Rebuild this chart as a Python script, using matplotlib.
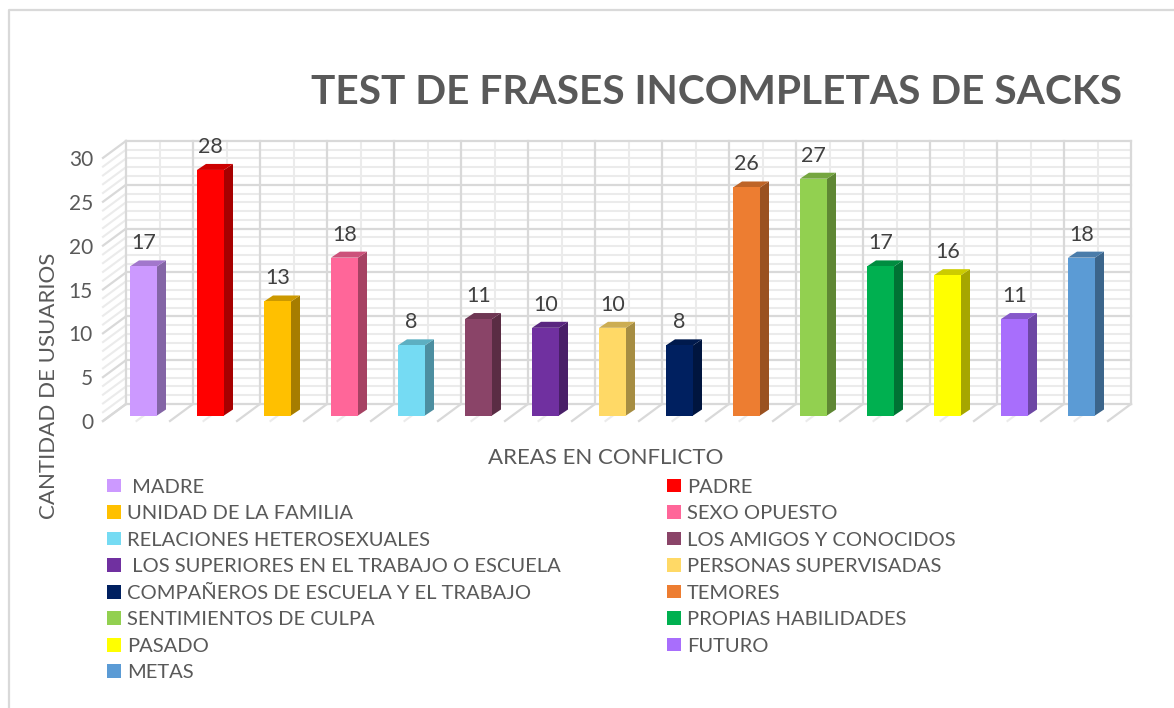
import matplotlib
matplotlib.use("Agg")
import matplotlib.pyplot as plt
from matplotlib.patches import Patch, Polygon

categories = [" MADRE", "PADRE", "UNIDAD DE LA FAMILIA", "SEXO OPUESTO",
              "RELACIONES HETEROSEXUALES", "LOS AMIGOS Y CONOCIDOS",
              " LOS SUPERIORES EN EL TRABAJO O ESCUELA", "PERSONAS SUPERVISADAS",
              "COMPAÑEROS DE ESCUELA Y EL TRABAJO", "TEMORES",
              "SENTIMIENTOS DE CULPA", "PROPIAS HABILIDADES", "PASADO", "FUTURO", "METAS"]
values = [17, 28, 13, 18, 8, 11, 10, 10, 8, 26, 27, 17, 16, 11, 18]
face_colors = ["#CC99FF", "#FF0000", "#FFC000", "#FF6699", "#75DBF3", "#8A4468", "#7030A0",
               "#FFD966", "#002060", "#ED7D31", "#92D050", "#00B050", "#FFFF00", "#A86EFC", "#5B9BD5"]
side_colors = ["#8465A6", "#A60000", "#A67D00", "#A64263", "#4C8EA0", "#5A2C44", "#491F68",
               "#A68D42", "#00153F", "#9A5120", "#5F8734", "#007234", "#A6A600", "#6D47A4", "#3B658B"]
top_colors = ["#A277CC", "#CC0000", "#CC9900", "#CC517A", "#5DAFC2", "#6E3653", "#5A2680",
              "#CCAD52", "#001A4D", "#BE6427", "#75A640", "#008D40", "#CCCC00", "#8658CA", "#4A7CAA"]
y_ticks = [0, 5, 10, 15, 20, 25, 30]

W, H = 1174, 708
PX_X = 67.0      # pixels per category
PX_Y = 8.77      # pixels per unit of value
X0 = 143.5       # pixel of category 0
Y0 = 415.5       # pixel of value 0 in the bar front plane
BAR_W = 27 / PX_X
DX, DY = 9 / PX_X, 6 / PX_Y            # bar depth
WX, WY = 23 / PX_X, 17 / PX_Y          # floor depth

fig = plt.figure(figsize=(W / 100, H / 100), dpi=100, facecolor="white")
plt.rcParams["font.family"] = ["Lato", "DejaVu Sans"]
ax = fig.add_axes([0, 0, 1, 1])
ax.set_xlim((0 - X0) / PX_X, (W - X0) / PX_X)
ax.set_ylim((Y0 - H) / PX_Y, Y0 / PX_Y)
ax.axis("off")

# chart-area border
ax.plot([(9 - X0) / PX_X, (9 - X0) / PX_X, (W - X0) / PX_X],
        [(Y0 - H) / PX_Y, (Y0 - 10) / PX_Y, (Y0 - 10) / PX_Y],
        color="#D9D9D9", lw=1.6, zorder=1)

# wall geometry in data units
back_dy = (Y0 - 404) / PX_Y
front_dy = (Y0 - 421) / PX_Y
wall_l = (126 - X0) / PX_X
n = len(categories)
wall_r = wall_l + n
MAJOR, MINOR = "#D9D9D9", "#EBEBEB"

for v in range(0, 31):
    major = v % 5 == 0
    c, w = (MAJOR, 1.6) if major else (MINOR, 1.5)
    z = 3 if major else 2
    yb = back_dy + v
    ax.plot([wall_l, wall_r], [yb, yb], color=c, lw=w, zorder=z)
    ax.plot([wall_l - WX, wall_l], [yb - WY, yb], color=c, lw=w, zorder=z)
for i in range(n + 1):
    x = wall_l + i
    ax.plot([x, x], [back_dy, back_dy + 30], color=MAJOR, lw=1.6, zorder=3)
    ax.plot([x - WX, x], [front_dy, back_dy], color=MAJOR, lw=1.6, zorder=3)
    if i < n:
        ax.plot([x + .5, x + .5], [back_dy, back_dy + 30], color=MINOR, lw=1.5, zorder=2)
        ax.plot([x + .5 - WX, x + .5], [front_dy, back_dy], color=MINOR, lw=1.5, zorder=2)

# 3-D looking bars
for i, (v, fc, sc, tc) in enumerate(zip(values, face_colors, side_colors, top_colors)):
    l, r = i - BAR_W / 2, i + BAR_W / 2
    ax.bar(i, v, width=BAR_W, color=fc, zorder=6)
    ax.add_patch(Polygon([(r, 0), (r + DX, DY), (r + DX, v + DY), (r, v)], fc=sc, ec="none", zorder=5))
    ax.add_patch(Polygon([(l, v), (l + DX, v + DY), (r + DX, v + DY), (r, v)], fc=tc, ec="none", zorder=5))
    ax.text(i, v + 23 / PX_Y, str(v), ha="center", va="center", fontsize=15.5, color="#404040", zorder=7)

# value axis
ax_y = fig.add_axes([93 / W, (H - 421) / H, 5 / W, (421 - 158) / H])
ax_y.set_ylim(0, 30)
ax_y.set_xlim(0, 1)
ax_y.patch.set_alpha(0)
for s in ax_y.spines.values():
    s.set_visible(False)
ax_y.set_xticks([])
ax_y.set_yticks(y_ticks)
ax_y.tick_params(axis="y", length=0, pad=0, labelsize=15, labelcolor="#595959")

fig.text(49 / W, 1 - 386 / H, "CANTIDAD DE USUARIOS", rotation=90, ha="center", va="center",
         fontsize=16, color="#595959")
fig.text(606 / W, 1 - 458 / H, "AREAS EN CONFLICTO", ha="center", va="center",
         fontsize=16, color="#595959")
fig.text(716.5 / W, 1 - 93 / H, "TEST DE FRASES INCOMPLETAS DE SACKS", ha="center", va="center",
         fontsize=29.25, fontweight="bold", color="#595959")

# legend: reading order is row-wise in the reference, matplotlib fills by column
order = list(range(0, n, 2)) + list(range(1, n, 2))
handles = [Patch(fc=face_colors[i], ec="none") for i in order]
labels = [categories[i] for i in order]
leg = fig.legend(handles, labels, ncols=2, loc="upper left",
                 bbox_to_anchor=(107 / W, 1 - 478.5 / H), bbox_transform=fig.transFigure,
                 frameon=False, fontsize=14.5, labelcolor="#595959",
                 borderpad=0, borderaxespad=0, handlelength=0.69, handleheight=0.69,
                 handletextpad=0.3, labelspacing=0.47, columnspacing=5.27)

fig.savefig("out.png", dpi=100)
